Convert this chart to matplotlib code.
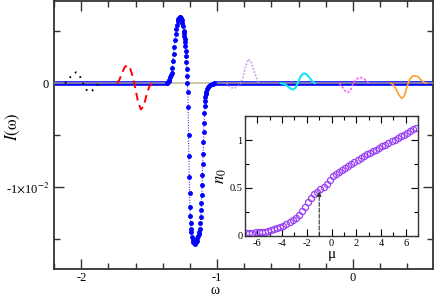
import numpy as np
import matplotlib
matplotlib.use("Agg")
import matplotlib.pyplot as plt
from matplotlib.ticker import MultipleLocator, FuncFormatter

plt.rcParams['font.family'] = ['Liberation Serif', 'DejaVu Serif']
plt.rcParams['mathtext.fontset'] = 'stix'
plt.rcParams['axes.unicode_minus'] = False

# main panel: I(omega) for several mu (values in units of 1e-3)
omega_blue = [-2.2, -1.370, -1.365, -1.360, -1.355, -1.350, -1.345, -1.340, -1.335, -1.330,
              -1.325, -1.320, -1.315, -1.310, -1.305, -1.300, -1.295, -1.290, -1.285, -1.280,
              -1.275, -1.270, -1.265, -1.260, -1.255, -1.250, -1.245, -1.2425, -1.240, -1.2375,
              -1.235, -1.2325, -1.230, -1.2275, -1.225, -1.2225, -1.220, -1.2175, -1.215, -1.2125,
              -1.210, -1.2075, -1.205, -1.2025, -1.200, -1.1975, -1.195, -1.1925, -1.190, -1.185,
              -1.180, -1.175, -1.170, -1.165, -1.160, -1.155, -1.150, -1.145, -1.140, -1.135,
              -1.130, -1.125, -1.1225, -1.120, -1.1175, -1.115, -1.1125, -1.110, -1.1075, -1.105,
              -1.1025, -1.100, -1.0975, -1.095, -1.0925, -1.090, -1.0875, -1.085, -1.0825, -1.080,
              -1.075, -1.070, -1.060, -1.050, -1.040, -1.030, -1.020, 0.6]
I_blue = [0.0, 0.0, 0.02, 0.08, 0.2, 0.35, 0.55, 0.75, 1.0, 1.5,
          2.1, 2.85, 3.5, 4.2, 4.75, 5.2, 5.65, 5.95, 6.2, 6.32,
          6.38, 6.35, 6.25, 6.05, 5.8, 5.5, 5.05, 4.8, 4.55, 4.3,
          4.0, 3.6, 3.15, 2.6, 2.0, 1.35, 0.7, 0.05, -0.8, -2.3,
          -5.0, -7.0, -9.0, -10.6, -11.9, -12.8, -13.5, -14.0, -14.35, -14.8,
          -15.1, -15.3, -15.4, -15.45, -15.4, -15.3, -15.15, -14.95, -14.75, -14.55,
          -14.35, -14.0, -13.5, -12.9, -12.2, -11.5, -10.8, -9.8, -8.8, -7.8,
          -6.8, -5.7, -4.7, -3.8, -2.9, -2.2, -1.7, -1.3, -1.0, -0.8,
          -0.55, -0.4, -0.25, -0.15, -0.08, -0.03, 0.0, 0.0]

omega_black = [-2.12, -2.10, -2.08, -2.06, -2.04, -2.02, -2.00, -1.98, -1.96, -1.94, -1.92, -1.90, -1.87]
I_black = [0.0, 0.25, 0.6, 0.9, 1.05, 0.95, 0.4, -0.2, -0.65, -0.85, -0.75, -0.4, 0.0]

omega_red = [-1.735, -1.72, -1.70, -1.68, -1.66, -1.64, -1.62, -1.60, -1.58, -1.56, -1.54, -1.52, -1.50, -1.48]
I_red = [0.0, 0.3, 0.95, 1.55, 1.73, 1.45, 0.6, -0.6, -1.9, -2.53, -2.2, -1.2, -0.35, 0.0]

omega_violet = [-0.93, -0.91, -0.89, -0.87, -0.85, -0.83, -0.81, -0.79, -0.77, -0.75, -0.73, -0.71, -0.69]
I_violet = [0.0, -0.3, -0.45, -0.45, -0.35, -0.1, 0.5, 1.6, 2.3, 2.1, 1.3, 0.5, 0.0]

omega_cyan = [-0.53, -0.50, -0.48, -0.46, -0.44, -0.42, -0.40, -0.38, -0.36, -0.34, -0.32, -0.30, -0.28]
I_cyan = [0.0, -0.1, -0.3, -0.5, -0.62, -0.4, 0.2, 0.75, 0.95, 0.85, 0.55, 0.2, 0.0]

omega_magenta = [-0.10, -0.08, -0.06, -0.04, -0.02, 0.00, 0.02, 0.04, 0.06, 0.08, 0.10, 0.12]
I_magenta = [0.0, -0.3, -0.7, -0.9, -0.75, -0.1, 0.35, 0.5, 0.55, 0.45, 0.2, 0.0]

omega_orange = [0.28, 0.30, 0.32, 0.34, 0.36, 0.38, 0.40, 0.42, 0.44, 0.46, 0.48, 0.50, 0.52, 0.54]
I_orange = [0.0, -0.2, -0.6, -1.15, -1.47, -1.2, -0.3, 0.4, 0.68, 0.7, 0.62, 0.35, 0.1, 0.0]

# inset: n0 vs mu
mu = [-6.9, -6.65, -6.4, -6.15, -5.9, -5.65, -5.4, -5.15, -4.9, -4.65,
      -4.4, -4.15, -3.9, -3.65, -3.4, -3.15, -2.9, -2.65, -2.4, -2.15,
      -1.9, -1.65, -1.4, -1.15, -0.9, -0.65, -0.4, -0.15, 0.1, 0.35,
      0.6, 0.85, 1.1, 1.35, 1.6, 1.85, 2.1, 2.35, 2.6, 2.85,
      3.1, 3.35, 3.6, 3.85, 4.1, 4.35, 4.6, 4.85, 5.1, 5.35,
      5.6, 5.85, 6.1, 6.35, 6.6, 6.85]
n0 = [0.030, 0.032, 0.034, 0.036, 0.039, 0.042, 0.046, 0.055, 0.063, 0.072,
      0.082, 0.093, 0.106, 0.125, 0.145, 0.165, 0.19, 0.22, 0.255, 0.30,
      0.35, 0.40, 0.435, 0.46, 0.485, 0.515, 0.545, 0.585, 0.62, 0.645,
      0.665, 0.69, 0.71, 0.73, 0.75, 0.77, 0.79, 0.81, 0.83, 0.85,
      0.865, 0.885, 0.90, 0.92, 0.935, 0.95, 0.97, 0.985, 1.005, 1.02,
      1.04, 1.055, 1.075, 1.09, 1.11, 1.13]
mu_arrow = -1.0
n_arrow = 0.46

scale = 1e-3
fig = plt.figure(figsize=(4.36, 2.96), dpi=100)
ax = fig.add_axes([0.124, 0.091, 0.869, 0.905])

def sc(v):
    return np.array(v) * scale

# baseline of the blue series (dense markers at zero)
ax.plot(omega_blue[:2], sc(I_blue[:2]), color='blue', lw=3.3, solid_capstyle='butt', zorder=2)
ax.plot(omega_blue[-2:], sc(I_blue[-2:]), color='blue', lw=3.3, solid_capstyle='butt', zorder=2)
ax.plot([omega_blue[0], omega_blue[-1]], [0, 0], color='#b8ae80', lw=1.3, alpha=0.75, zorder=3)

ax.plot(omega_black, sc(I_black), color='black', ls=(0, (1, 3)), lw=1.3, zorder=4)
ax.plot(omega_red, sc(I_red), color='red', ls=(0, (4, 2.5)), lw=1.4, zorder=4)
ax.plot(omega_violet, sc(I_violet), color='#c896f0', ls=(0, (1, 1)), lw=1.2, zorder=4)
ax.plot(omega_cyan, sc(I_cyan), color='#10e8f8', lw=1.5, zorder=4)
ax.plot(omega_magenta, sc(I_magenta), color='#ff60ff', ls=(0, (1.5, 1)), lw=1.2, zorder=4)
ax.plot(omega_orange, sc(I_orange), color='#ffa030', lw=1.2, zorder=4)
ax.plot(omega_blue[1:-1], sc(I_blue[1:-1]), color='blue', ls=':', lw=0.7,
        marker='o', ms=2.5, mec='blue', mfc='blue', zorder=5)

ax.set_xlim(-2.2, 0.59)
ax.set_ylim(-0.0179, 0.0079)
ax.xaxis.set_major_locator(MultipleLocator(1))
ax.xaxis.set_minor_locator(MultipleLocator(0.2))
ax.yaxis.set_major_locator(MultipleLocator(0.01))
ax.yaxis.set_minor_locator(MultipleLocator(0.005))

def yfmt(v, pos):
    if abs(v) < 1e-9:
        return '0'
    if abs(v + 0.01) < 1e-9:
        return r'-1$\times$10$^{-2}$'
    return ''

ax.yaxis.set_major_formatter(FuncFormatter(yfmt))
ax.xaxis.set_major_formatter(FuncFormatter(lambda v, p: '%d' % round(v)))
ax.tick_params(which='both', direction='in', top=True, right=True, labelsize=9, width=1.0, color='#333333')
ax.tick_params(which='major', length=7)
ax.tick_params(which='minor', length=4)
ax.tick_params(axis='x', pad=2)
for s in ax.spines.values():
    s.set_linewidth(1.3)
    s.set_color('#333333')
ax.set_xlabel('ω', fontsize=10)
ax.xaxis.set_label_coords(0.425, -0.056)
ax.set_ylabel(r'$I(\mathrm{\omega})$', fontsize=12)
ax.yaxis.set_label_coords(-0.085, 0.53)

# inset
ins = fig.add_axes([0.562, 0.203, 0.397, 0.405])
ins.plot(mu, n0, ls='none', marker='o', ms=4.4, mfc='none', mec='#9a40f5', mew=0.9)
ins.annotate('', xy=(mu_arrow, n_arrow), xytext=(mu_arrow, 0),
             arrowprops=dict(arrowstyle='-|>', ls='--', color='#333333', lw=0.8,
                             mutation_scale=6, shrinkA=0, shrinkB=0))
ins.set_xlim(-7, 7)
ins.set_ylim(0, 1.25)
ins.xaxis.set_major_locator(MultipleLocator(2))
ins.xaxis.set_minor_locator(MultipleLocator(1))
ins.yaxis.set_major_locator(MultipleLocator(0.5))
ins.yaxis.set_minor_locator(MultipleLocator(0.25))
ins.yaxis.set_major_formatter(FuncFormatter(lambda v, p: '%g' % v))
ins.tick_params(which='both', direction='in', top=True, right=True, labelsize=7.5, width=0.8, pad=2)
ins.tick_params(which='major', length=5)
ins.tick_params(which='minor', length=3)
for s in ins.spines.values():
    s.set_linewidth(1.0)
    s.set_color('#333333')
ins.set_xlabel('μ', fontsize=11, labelpad=0)
ins.set_ylabel(r'$n_{\mathit{0}}$', fontsize=12, labelpad=0)

fig.savefig('out.png', dpi=100)
